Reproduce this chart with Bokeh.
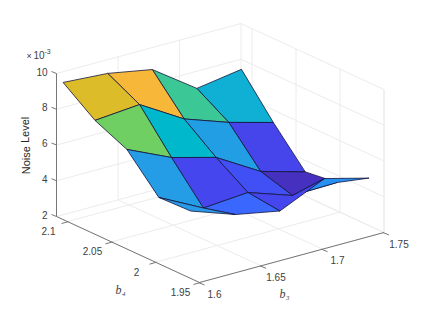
from bokeh.plotting import figure
from bokeh.models import Range1d
from bokeh.core.properties import value
from bokeh.embed import file_html
from bokeh.resources import INLINE

# --- data ---
b3 = [1.6, 1.63625, 1.6725, 1.70875, 1.745]
b4 = [2.105, 2.06875, 2.0325, 1.99625, 1.96]
noise = [  # rows follow b4, columns follow b3, in units of 1e-3
    [9.67, 9.50, 9.04, 7.31, 7.70],
    [8.37, 8.58, 7.10, 6.23, 5.55],
    [7.57, 6.44, 5.77, 4.31, 3.61],
    [5.71, 4.44, 4.63, 3.79, 3.84],
    [5.77, 4.90, 4.42, 5.56, 4.91],
]
b3_ticks = [1.6, 1.65, 1.7, 1.75]
b3_labels = ["1.6", "1.65", "1.7", "1.75"]
b4_ticks = [1.95, 2.0, 2.05, 2.1]
b4_labels = ["1.95", "2", "2.05", "2.1"]
z_ticks = [2, 4, 6, 8, 10]
z_labels = ["2", "4", "6", "8", "10"]

# --- style ---
FACE = [
    ["#DCBC28", "#F7B83A", "#3CC896", "#10B0D4"],
    ["#6FCF62", "#00B8CC", "#219EE4", "#4545EB"],
    ["#259CE6", "#4646EE", "#4050F5", "#4530C0"],
    ["#2A9AE8", "#3A68FF", "#4646EE", "#2890F0"],
]
B3_LIM = (1.6, 1.75)
B4_LIM = (1.95, 2.1125)
Z_LIM = (2, 10)
GRID = "#ececec"
AX = "#777777"
TXT = "#404040"


def proj(a, b, z):
    """Parallel projection of the MATLAB-style 3-D view onto the page."""
    ta = (a - B3_LIM[0]) / (B3_LIM[1] - B3_LIM[0])
    tb = (b - B4_LIM[0]) / (B4_LIM[1] - B4_LIM[0])
    tz = (z - Z_LIM[0]) / (Z_LIM[1] - Z_LIM[0])
    return 199 + 184.5 * ta - 143 * tb, 282 - 50 * ta - 66 * tb - 143 * tz


p = figure(width=415, height=309, output_backend="svg", toolbar_location=None,
           x_range=Range1d(0, 415), y_range=Range1d(309, 0), min_border=0,
           outline_line_color=None, background_fill_color="white")
p.xaxis.visible = False
p.yaxis.visible = False
p.grid.visible = False

# --- grid on back walls and floor ---
gx, gy = [], []


def seg(a0, b0, z0, a1, b1, z1):
    x0, y0 = proj(a0, b0, z0)
    x1, y1 = proj(a1, b1, z1)
    gx.append([x0, x1])
    gy.append([y0, y1])


a_lo, a_hi = B3_LIM
b_lo, b_hi = B4_LIM
z_lo, z_hi = Z_LIM
for t in b3_ticks:
    seg(t, b_lo, z_lo, t, b_hi, z_lo)
    seg(t, b_hi, z_lo, t, b_hi, z_hi)
for t in b4_ticks:
    seg(a_lo, t, z_lo, a_hi, t, z_lo)
    seg(a_hi, t, z_lo, a_hi, t, z_hi)
for t in z_ticks:
    seg(a_lo, b_hi, t, a_hi, b_hi, t)
    seg(a_hi, b_lo, t, a_hi, b_hi, t)
seg(a_hi, b_lo, z_lo, a_hi, b_lo, z_hi)
p.multi_line(gx, gy, line_color=GRID, line_width=1)

# --- surface, painted from the far rows forward ---
xs, ys, cols = [], [], []
for j in range(len(b4) - 1):
    for i in range(len(b3) - 2, -1, -1):
        corners = [(i, j), (i + 1, j), (i + 1, j + 1), (i, j + 1)]
        pts = [proj(b3[c], b4[r], noise[r][c]) for c, r in corners]
        xs.append([q[0] for q in pts])
        ys.append([q[1] for q in pts])
        cols.append(FACE[j][i])
p.patches(xs, ys, fill_color=cols, line_color="#14143a", line_width=0.8,
          line_join="round")

# --- axes lines and ticks ---
ax, ay = [], []
for (a0, b0, z0), (a1, b1, z1) in [
    ((a_lo, b_hi, z_lo), (a_lo, b_lo, z_lo)),
    ((a_lo, b_lo, z_lo), (a_hi, b_lo, z_lo)),
    ((a_lo, b_hi, z_lo), (a_lo, b_hi, z_hi)),
]:
    x0, y0 = proj(a0, b0, z0)
    x1, y1 = proj(a1, b1, z1)
    ax.append([x0, x1])
    ay.append([y0, y1])
for t in b4_ticks:
    x0, y0 = proj(a_lo, t, z_lo)
    ax.append([x0 - 6, x0 + 1])
    ay.append([y0 + 2, y0])
for t in b3_ticks:
    x0, y0 = proj(t, b_lo, z_lo)
    ax.append([x0 - 1, x0 + 5])
    ay.append([y0, y0 + 2.5])
for t in z_ticks:
    x0, y0 = proj(a_lo, b_hi, t)
    ax.append([x0 - 5, x0])
    ay.append([y0 - 2, y0])
p.multi_line(ax, ay, line_color=AX, line_width=1)


def label(x, y, s, size="10px", font="Liberation Sans", style="normal",
          align="center", angle=0.0, color=TXT):
    p.text([x], [y], text=[s], text_font=value(font), text_font_size=value(size),
           text_font_style=style, text_align=align, text_baseline="middle",
           text_color=color, angle=angle)


# tick labels sit at a fixed offset from their tick on the floor / wall
for t, s in zip(b4_ticks, b4_labels):
    x0, y0 = proj(a_lo, t, z_lo)
    label(x0 - 19, y0 + 9.5, s)
for t, s in zip(b3_ticks, b3_labels):
    x0, y0 = proj(t, b_lo, z_lo)
    label(x0 + 15, y0 + 11, s)
for t, s in zip(z_ticks, z_labels):
    x0, y0 = proj(a_lo, b_hi, t)
    label(x0 - 9, y0 - 2, s, align="right")

label(25, 145, "Noise Level", size="11px", angle=1.5708, color="#262626")
label(120, 289, "b\u2084", size="12px", font="Liberation Serif", style="italic", color="#404040")
label(284, 293, "b\u2083", size="12px", font="Liberation Serif", style="italic", color="#404040")
label(26, 55, "\u00d7", size="9px", align="left")
label(33, 54.5, "10", size="10px", align="left")
label(44, 51, "-3", size="7px", align="left")

open("out.html", "w").write(file_html(p, INLINE))
